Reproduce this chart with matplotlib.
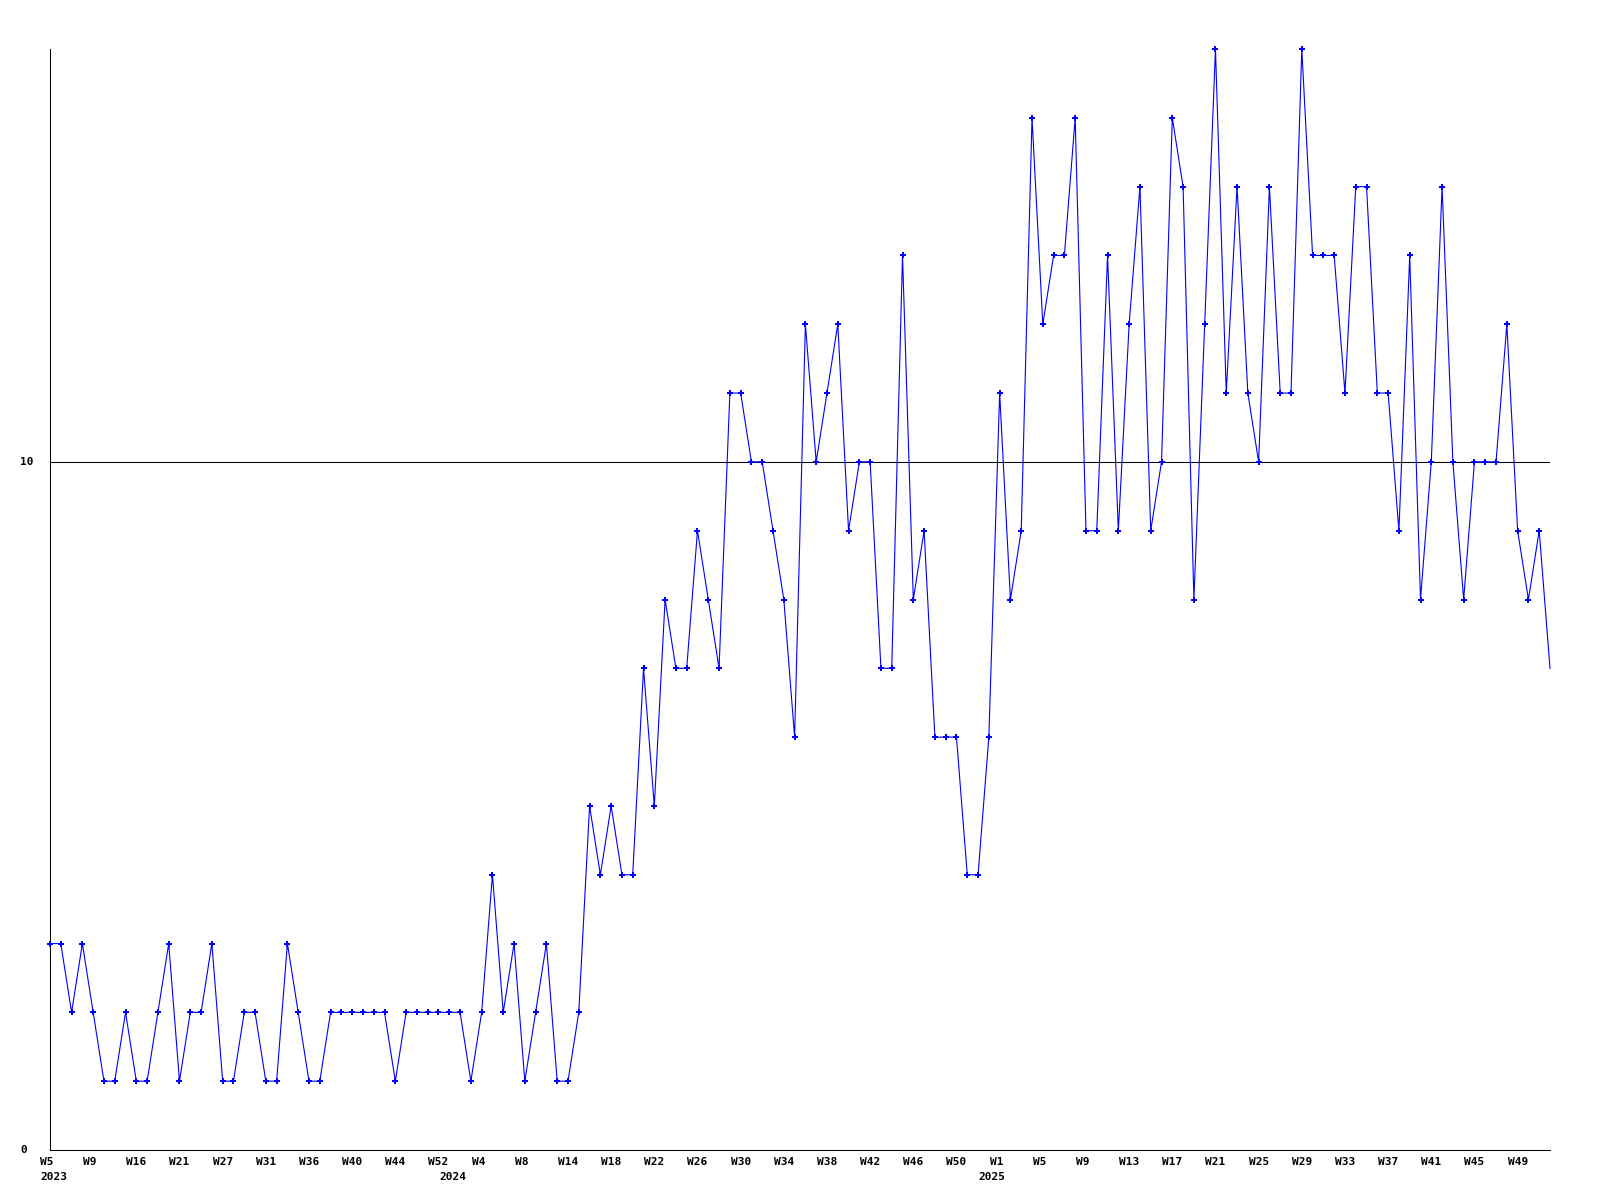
import numpy as np
import matplotlib
matplotlib.use('Agg')
import matplotlib.pyplot as plt
from matplotlib import transforms

# weekly counts, one point per week that has data
years = ['2023', '2024', '2025']
counts_2023 = [3, 3, 2, 3, 2, 1, 1, 2, 1, 1, 2, 3, 1, 2, 2, 3, 1, 1, 2, 2,
               1, 1, 3, 2, 1, 1, 2, 2, 2, 2, 2, 2, 1, 2, 2, 2, 2]
counts_2024 = [2, 2, 1, 2, 4, 2, 3, 1, 2, 3, 1, 1, 2, 5, 4, 5, 4, 4, 7, 5,
               8, 7, 7, 9, 8, 7, 11, 11, 10, 10, 9, 8, 6, 12, 10, 11, 12, 9, 10, 10,
               7, 7, 13, 8, 9, 6, 6, 6, 4, 4]
counts_2025 = [6, 11, 8, 9, 15, 12, 13, 13, 15, 9, 9, 13, 9, 12, 14, 9, 10, 15, 14, 8,
               12, 16, 11, 14, 11, 10, 14, 11, 11, 16, 13, 13, 13, 11, 14, 14, 11, 11, 9, 13,
               8, 10, 14, 10, 8, 10, 10, 10, 12, 9, 8, 9, 7]

# label on every 4th point
week_labels = ['W5', 'W9', 'W16', 'W21', 'W27', 'W31', 'W36', 'W40', 'W44', 'W52',
               'W4', 'W8', 'W14', 'W18', 'W22', 'W26', 'W30', 'W34', 'W38', 'W42',
               'W46', 'W50', 'W1', 'W5', 'W9', 'W13', 'W17', 'W21', 'W25', 'W29',
               'W33', 'W37', 'W41', 'W45', 'W49']
y_labels = [0, 10]
TICK_STEP = 4
REF_LEVEL = 10
Y_MAX = 16

values = counts_2023 + counts_2024 + counts_2025
x = np.arange(len(values))
year_starts = np.cumsum([0, len(counts_2023), len(counts_2024)])

W, H = 1600, 1200
fig = plt.figure(figsize=(W / 100, H / 100), dpi=100)
ax = fig.add_axes([50 / W, 50 / H, 1500 / W, 1101 / H])

ax.axhline(REF_LEVEL, color='black', lw=0.75, zorder=1)
ax.plot(x, values, color='#0000ff', lw=0.8, zorder=2, clip_on=False)
# last (current) week has no marker
ax.plot(x[:-1], values[:-1], ls='none', color='#0000ff', marker='P', ms=4, mew=0,
        clip_on=False, zorder=3)

ax.set_xlim(0, len(values) - 1)
ax.set_ylim(0, Y_MAX)
ax.spines['top'].set_visible(False)
ax.spines['right'].set_visible(False)
for s in ('left', 'bottom'):
    ax.spines[s].set_linewidth(0.75)
ax.set_xticks([])
ax.set_yticks([])

font = dict(family='DejaVu Sans Mono', weight='bold', size=8)

# x labels, left aligned a little before the point
week_tr = transforms.offset_copy(ax.get_xaxis_transform(), fig=fig, x=-10, y=-12, units='dots')
for i, lab in zip(x[::TICK_STEP], week_labels):
    ax.text(i, 0, lab, transform=week_tr, ha='left', va='center', **font)

year_tr = transforms.offset_copy(ax.get_xaxis_transform(), fig=fig, x=-10, y=-26.5, units='dots')
for i, yr in zip(year_starts, years):
    ax.text(i, 0, yr, transform=year_tr, ha='left', va='center', **font)

# y labels
ylab_tr = transforms.offset_copy(ax.get_yaxis_transform(), fig=fig, x=-30, y=0, units='dots')
for v in y_labels:
    ax.text(0, v, str(v), transform=ylab_tr, ha='left', va='center', **font)

fig.savefig('out.png', dpi=100, facecolor='white')
